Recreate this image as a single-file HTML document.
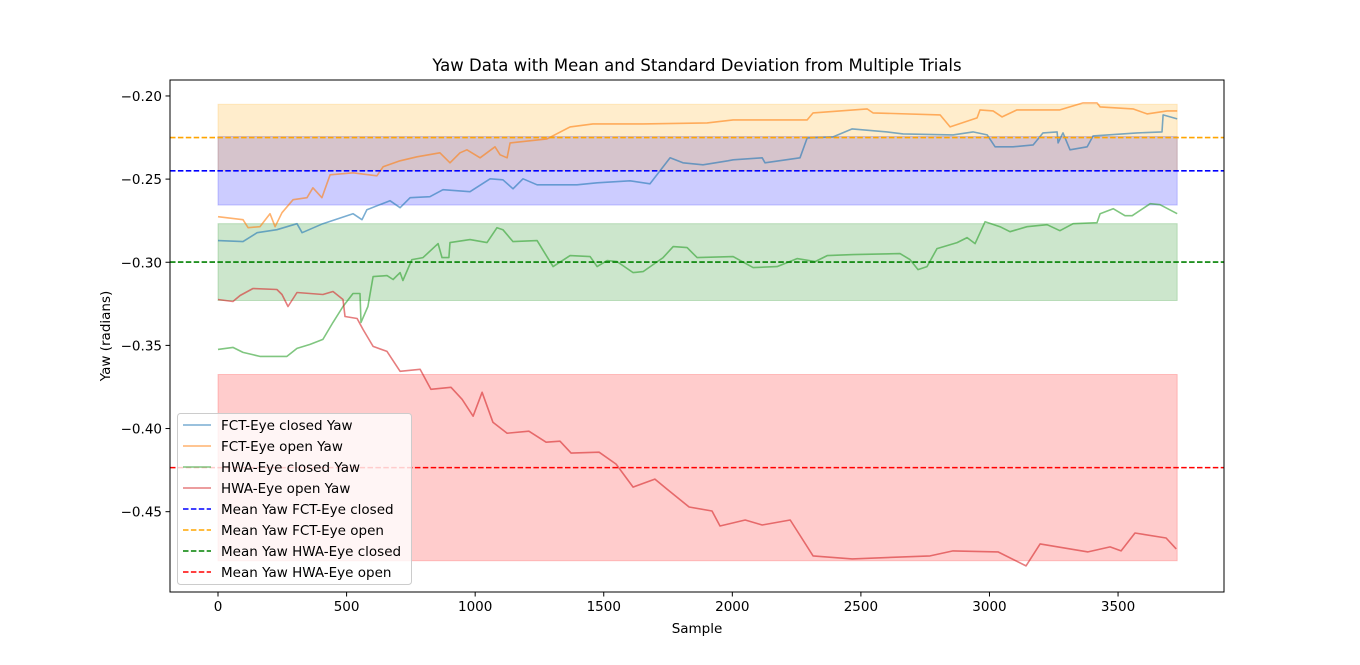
<!DOCTYPE html>
<html><head><meta charset="utf-8"><style>
body{margin:0;background:#fff;}
svg{display:block;font-family:"DejaVu Sans","Liberation Sans",sans-serif;}
</style></head><body>
<svg id="chart" width="1360" height="665"></svg>
<script>
const blueX=[0,97,152,229,307,327,408,525,560,579,669,708,747,824,875,980,1058,1108,1147,1186,1241,1396,1474,1602,1680,1758,1808,1886,1983,2003,2116,2127,2263,2291,2392,2466,2602,2664,2858,2936,2991,3022,3092,3170,3208,3263,3267,3286,3313,3380,3403,3574,3671,3675,3730];
const blueY=[-0.287,-0.2876,-0.2822,-0.2804,-0.2768,-0.2822,-0.2768,-0.2708,-0.2744,-0.2684,-0.263,-0.2672,-0.2612,-0.2606,-0.2564,-0.2576,-0.2498,-0.2504,-0.2558,-0.2498,-0.2534,-0.2534,-0.2522,-0.251,-0.2528,-0.2372,-0.2402,-0.2414,-0.239,-0.2384,-0.2372,-0.2402,-0.2372,-0.2252,-0.2246,-0.2198,-0.2216,-0.2228,-0.2234,-0.2216,-0.2234,-0.2306,-0.2306,-0.2294,-0.2222,-0.2216,-0.2282,-0.2222,-0.2324,-0.2306,-0.224,-0.2222,-0.2216,-0.2114,-0.2138];
const orangeX=[0,97,117,163,202,222,249,292,346,369,404,436,525,618,642,708,774,863,902,941,968,1019,1077,1097,1124,1136,1279,1369,1458,1653,1902,2003,2291,2314,2524,2547,2808,2847,2952,2963,3014,3049,3107,3274,3364,3418,3430,3558,3613,3691,3730];
const orangeY=[-0.2726,-0.2744,-0.2792,-0.2786,-0.2708,-0.2786,-0.2702,-0.2624,-0.2612,-0.2552,-0.2612,-0.2474,-0.2462,-0.248,-0.2426,-0.239,-0.2366,-0.2342,-0.2402,-0.2342,-0.2324,-0.2372,-0.2306,-0.2354,-0.2372,-0.2282,-0.2258,-0.2186,-0.2168,-0.2168,-0.2162,-0.2144,-0.2144,-0.2102,-0.2078,-0.2102,-0.2114,-0.2186,-0.2132,-0.2084,-0.209,-0.2126,-0.2084,-0.2084,-0.2042,-0.2042,-0.2066,-0.2078,-0.2108,-0.209,-0.209];
const greenX=[0,58,97,163,268,307,358,408,447,486,525,552,556,583,603,657,681,708,719,754,797,856,871,898,902,980,1046,1085,1108,1147,1241,1303,1369,1447,1474,1513,1552,1614,1653,1731,1770,1824,1863,2003,2081,2174,2252,2322,2369,2470,2652,2691,2722,2757,2796,2874,2913,2944,2983,3041,3080,3146,3224,3274,3325,3418,3430,3481,3527,3555,3625,3663,3730];
const greenY=[-0.3524,-0.3512,-0.3542,-0.3566,-0.3566,-0.3518,-0.3494,-0.3464,-0.3362,-0.3266,-0.3188,-0.3188,-0.3362,-0.3266,-0.3086,-0.308,-0.3104,-0.3062,-0.311,-0.2984,-0.2972,-0.2888,-0.2972,-0.2972,-0.2882,-0.2864,-0.2882,-0.2792,-0.2804,-0.2876,-0.287,-0.3026,-0.296,-0.2966,-0.3026,-0.299,-0.2996,-0.3062,-0.3056,-0.2972,-0.2906,-0.2912,-0.2972,-0.2966,-0.3032,-0.3026,-0.2978,-0.2996,-0.296,-0.2954,-0.2948,-0.2984,-0.3044,-0.3026,-0.2918,-0.2882,-0.2852,-0.2888,-0.2756,-0.2786,-0.2816,-0.2786,-0.2774,-0.281,-0.2768,-0.2762,-0.2708,-0.2678,-0.272,-0.272,-0.2648,-0.2654,-0.2708];
const redX=[0,58,86,136,229,249,272,307,408,447,486,494,541,564,603,657,708,786,828,906,949,992,1027,1069,1124,1209,1276,1330,1373,1482,1548,1614,1699,1746,1832,1921,1952,2050,2116,2225,2314,2466,2769,2858,3033,3142,3197,3383,3469,3512,3566,3687,3726];
const redY=[-0.3224,-0.3236,-0.32,-0.3158,-0.3164,-0.3194,-0.3266,-0.3182,-0.3194,-0.3176,-0.3224,-0.3326,-0.3338,-0.3404,-0.3506,-0.3536,-0.3656,-0.3644,-0.3764,-0.3752,-0.3824,-0.3926,-0.3782,-0.3962,-0.4028,-0.4016,-0.4082,-0.4076,-0.4148,-0.4142,-0.4214,-0.4352,-0.4304,-0.4364,-0.4472,-0.4496,-0.4586,-0.455,-0.458,-0.455,-0.4766,-0.4784,-0.4766,-0.4736,-0.4742,-0.4826,-0.4694,-0.4742,-0.4712,-0.4736,-0.4628,-0.4658,-0.4724];
const seriesNames=["FCT-Eye closed Yaw","FCT-Eye open Yaw","HWA-Eye closed Yaw","HWA-Eye open Yaw"];
const meanNames=["Mean Yaw FCT-Eye closed","Mean Yaw FCT-Eye open","Mean Yaw HWA-Eye closed","Mean Yaw HWA-Eye open"];
const means=[-0.245,-0.225,-0.2999,-0.4235];
const stds=[0.0206,0.020,0.0231,0.056];
const sampleMax=3730;
const xTicks=[0,500,1000,1500,2000,2500,3000,3500];
const yTicks=[-0.20,-0.25,-0.30,-0.35,-0.40,-0.45];

const L=170,R=1224,T=80,B=592;
const X0=-186.7,X1=3912,Y0=-0.4983,Y1=-0.1904;
const sx=v=>L+(v-X0)/(X1-X0)*(R-L);
const sy=v=>B-(v-Y0)/(Y1-Y0)*(B-T);
const NS="http://www.w3.org/2000/svg";
const svg=document.getElementById('chart');
function mk(tag,attrs,parent){const e=document.createElementNS(NS,tag);for(const k in attrs)e.setAttribute(k,attrs[k]);(parent||svg).appendChild(e);return e;}

const lineCols=["#1f77b4","#ff7f0e","#2ca02c","#d62728"];
const bandCols=["#0000ff","#ffa500","#008000","#ff0000"];
const xs=[blueX,orangeX,greenX,redX], ys=[blueY,orangeY,greenY,redY];
const keys=["fct-closed","fct-open","hwa-closed","hwa-open"];

mk('rect',{x:L,y:T,width:R-L,height:B-T,fill:'#fff'});
for(let i=0;i<4;i++){
  const r=mk('rect',{x:sx(0),y:sy(means[i]+stds[i]),width:sx(sampleMax)-sx(0),height:sy(means[i]-stds[i])-sy(means[i]+stds[i]),fill:bandCols[i],'fill-opacity':0.2,stroke:bandCols[i],'stroke-opacity':0.2});
  
  
}
for(let i=0;i<4;i++){
  const pts=xs[i].map((x,j)=>sx(x).toFixed(1)+','+sy(ys[i][j]).toFixed(1)).join(' ');
  const p=mk('polyline',{points:pts,fill:'none',stroke:lineCols[i],'stroke-opacity':0.6,'stroke-width':1.6,'stroke-linejoin':'round'});
  
  
}
for(let i=0;i<4;i++){
  const l=mk('line',{x1:L,x2:R,y1:sy(means[i]),y2:sy(means[i]),stroke:bandCols[i],'stroke-width':1.6,'stroke-dasharray':'5.5,2.4'});
  
  
}
mk('rect',{x:L,y:T,width:R-L,height:B-T,fill:'none',stroke:'#000','stroke-width':1});
xTicks.forEach(t=>{
  mk('line',{x1:sx(t),x2:sx(t),y1:B,y2:B+4.5,stroke:'#000'});
  const tx=mk('text',{x:sx(t),y:B+19,'text-anchor':'middle','font-size':13.5});
  tx.textContent=t;
  
  
});
yTicks.forEach(t=>{
  mk('line',{x1:L-4.5,x2:L,y1:sy(t),y2:sy(t),stroke:'#000'});
  const tx=mk('text',{x:L-8,y:sy(t)+5,'text-anchor':'end','font-size':13.5});
  tx.textContent='\u2212'+Math.abs(t).toFixed(2);
  
  
});
const title=mk('text',{x:697,y:71,'text-anchor':'middle','font-size':16.5});
title.textContent='Yaw Data with Mean and Standard Deviation from Multiple Trials';


const xl=mk('text',{x:697,y:633,'text-anchor':'middle','font-size':13.5});
xl.textContent='Sample';


const yl=mk('text',{x:0,y:0,'text-anchor':'middle','font-size':13.5,transform:'translate(110,336) rotate(-90)'});
yl.textContent='Yaw (radians)';



const lg=mk('g',{});


mk('rect',{x:177.5,y:413.5,width:234,height:171,rx:3,fill:'#fff','fill-opacity':0.8,stroke:'#ccc'},lg);
const labels=seriesNames.concat(meanNames);
labels.forEach((lab,i)=>{
  const y=425+i*21;
  const k=i%4;
  const attrs={x1:183,x2:211,y1:y,y2:y,'stroke-width':1.6};
  if(i<4){attrs.stroke=lineCols[k];attrs['stroke-opacity']=0.6;}else{attrs.stroke=bandCols[k];attrs['stroke-dasharray']='5.5,2.4';}
  mk('line',attrs,lg);
  const t=mk('text',{x:221,y:y+5,'font-size':13.5},lg);
  t.textContent=lab;
  
  
});
</script>
</body></html>
